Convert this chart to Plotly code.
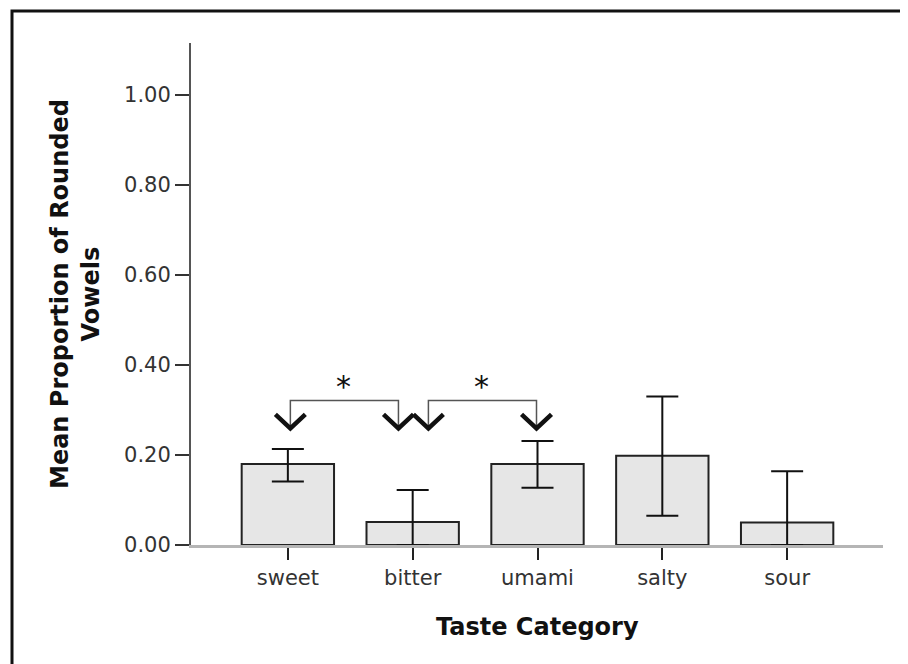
import plotly.graph_objects as go

categories = ["sweet", "bitter", "umami", "salty", "sour"]
means = [0.180, 0.051, 0.180, 0.198, 0.050]
err_upper = [0.213, 0.122, 0.231, 0.330, 0.164]
err_lower = [0.141, 0.000, 0.127, 0.065, 0.000]
y_ticks = [0.0, 0.2, 0.4, 0.6, 0.8, 1.0]

# significance comparisons: (from category, to category, star label)
comparisons = [("sweet", "bitter", "*"), ("bitter", "umami", "*")]

idx = {c: i for i, c in enumerate(categories)}
xs = list(range(len(categories)))

# page has an 8px body margin, so the figure is drawn 8px in from the window edge
OFF = 8
W, H = 908 - OFF, 664 - OFF
L, R, T = 191 - OFF, 25, 43 - OFF
PB = 545 - OFF  # plot bottom in figure pixels
B = H - PB
pw, ph = W - L - R, PB - T

fig = go.Figure()
fig.add_trace(go.Bar(
    x=xs, y=means, width=0.74,
    marker=dict(color="#e6e6e6", line=dict(color="#222222", width=2)),
    error_y=dict(
        type="data", symmetric=False,
        array=[u - m for u, m in zip(err_upper, means)],
        arrayminus=[m - l for m, l in zip(means, err_lower)],
        color="#111111", thickness=2, width=16,
    ),
    showlegend=False, hoverinfo="skip",
))

# brackets with chevron markers
br_y = 0.321
tip_y = 0.259
arm_dx = 0.12
arm_dy = 0.031
for a, b, lab in comparisons:
    ia, ib = idx[a], idx[b]
    xa = ia + (0.02 if ia == 0 else 0.126)
    xb = ib - 0.114 if ib == 1 else ib - 0.008
    fig.add_trace(go.Scatter(
        x=[xa, xa, xb, xb], y=[tip_y, br_y, br_y, tip_y], mode="lines",
        line=dict(color="#555555", width=1.5), showlegend=False, hoverinfo="skip"))
    for xc in (xa, xb):
        fig.add_trace(go.Scatter(
            x=[xc - arm_dx, xc, xc + arm_dx], y=[tip_y + arm_dy, tip_y, tip_y + arm_dy],
            mode="lines", line=dict(color="#111111", width=4.5),
            showlegend=False, hoverinfo="skip"))
    fig.add_annotation(x=(xa + xb) / 2 - 0.01, y=0.352, text=lab, showarrow=False,
                       font=dict(family="DejaVu Sans", size=30, color="#111111"),
                       xanchor="center", yanchor="middle")

# axis titles
fig.add_annotation(x=(75 - OFF - L) / pw, y=0.5, xref="paper", yref="paper",
                   text="Mean Proportion of Rounded<br>Vowels", textangle=-90,
                   showarrow=False, xanchor="center", yanchor="middle",
                   font=dict(family="DejaVu Sans", size=24, color="#111111", weight="bold"))
fig.add_annotation(x=0.5, y=-(627 - OFF - PB) / ph, xref="paper", yref="paper",
                   text="Taste Category", showarrow=False, xanchor="center", yanchor="middle",
                   font=dict(family="DejaVu Sans", size=24, color="#111111", weight="bold"))

# outer frame
fig.add_shape(type="rect", xref="paper", yref="paper",
              x0=(12 - OFF - L) / pw, x1=(W + 10 - L) / pw,
              y0=-(H + 10 - PB) / ph, y1=(PB - (11 - OFF)) / ph,
              line=dict(color="#111111", width=3), fillcolor="rgba(0,0,0,0)", layer="below")

fig.update_layout(
    width=W, height=H,
    margin=dict(l=L, r=R, t=T, b=B, pad=0),
    paper_bgcolor="white", plot_bgcolor="white",
    font=dict(family="DejaVu Sans", size=21, color="#333333"),
    xaxis=dict(
        tickmode="array", tickvals=xs, ticktext=categories,
        range=[-0.776, 4.768], showgrid=False, zeroline=False,
        showline=True, linecolor="#b5b5b5", linewidth=3,
        ticks="outside", ticklen=12, tickwidth=2, tickcolor="#222222",
        tickfont=dict(size=21, color="#333333"),
    ),
    yaxis=dict(
        range=[0, 1.115], tickmode="array", tickvals=y_ticks,
        ticktext=[f"{v:.2f}" for v in y_ticks],
        showgrid=False, zeroline=False,
        showline=True, linecolor="#555555", linewidth=2,
        ticks="outside", ticklen=14, tickwidth=2, tickcolor="#333333",
        tickfont=dict(size=21, color="#333333"),
    ),
)

fig.write_html("out.html")
